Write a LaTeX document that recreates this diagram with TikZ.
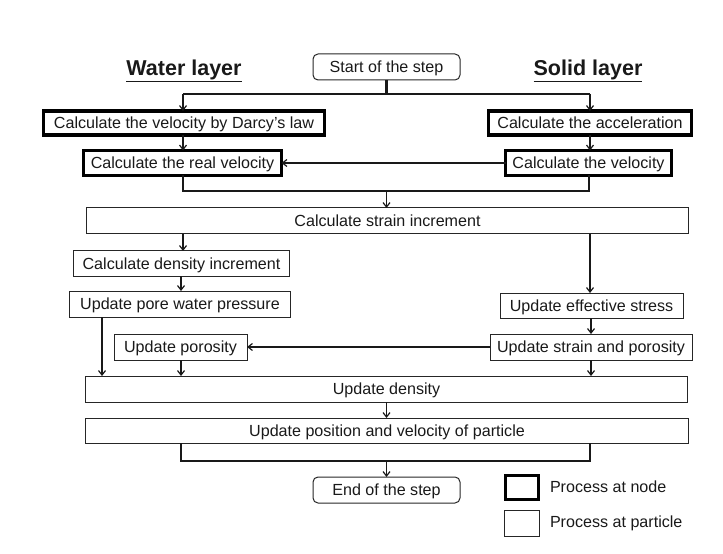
\documentclass[tikz,border=0pt]{standalone}
\usepackage{fontspec}
\setmainfont{Liberation Sans}
\usetikzlibrary{arrows.meta}
\begin{document}
\begin{tikzpicture}[x=1bp,y=-1bp,
  every node/.style={font=\fontsize{16.1bp}{19bp}\selectfont, text=black!90, inner sep=0pt, outer sep=0pt, text height=11.5bp, text depth=0bp},
  nodebox/.style={draw=black, line width=3.6bp, minimum height=24bp},
  partbox/.style={draw=black!85, line width=1bp, minimum height=26bp},
  termbox/.style={draw=black!85, line width=1bp, rounded corners=5bp, minimum height=26bp},
  title/.style={font=\fontsize{21.5bp}{25bp}\selectfont\bfseries, text height=15.5bp},
  arr/.style={draw=black!90, line width=1.2bp, -{Straight Barb[length=4.5bp,width=7bp]}},
  joinline/.style={draw=black!90, line width=2.2bp},
]
\useasboundingbox (0,0) rectangle (723,554);

% titles
\node[title] (wl) at (184,68) {\underline{Water layer}};
\node[title] (sl) at (588,68) {\underline{Solid layer}};

% nodes
\node[termbox, minimum width=147bp] (start) at (386.5,67) {Start of the step};
\node[nodebox, minimum width=281bp] (darcy) at (184,123) {Calculate the velocity by Darcy's law};
\node[nodebox, minimum width=203bp] (acc) at (590,123) {Calculate the acceleration};
\node[nodebox, minimum width=198bp, minimum height=25bp] (real) at (182.5,163) {Calculate the real velocity};
\node[nodebox, minimum width=166bp, minimum height=25bp] (vel) at (588.5,163) {Calculate the velocity};
\node[partbox, minimum width=601bp] (strain) at (387.5,221) {Calculate strain increment};
\node[partbox, minimum width=215bp, minimum height=25bp] (dinc) at (181.5,263.5) {Calculate density increment};
\node[partbox, minimum width=220bp] (pwp) at (180,304) {Update pore water pressure};
\node[partbox, minimum width=183bp, minimum height=25bp] (eff) at (591.5,305.5) {Update effective stress};
\node[partbox, minimum width=202bp] (snp) at (591,347) {Update strain and porosity};
\node[partbox, minimum width=133bp] (por) at (180.5,347) {Update porosity};
\node[partbox, minimum width=601bp] (dens) at (386.5,389) {Update density};
\node[partbox, minimum width=602bp, minimum height=25bp] (pos) at (387,430.5) {Update position and velocity of particle};
\node[termbox, minimum width=147bp] (end) at (386.5,490) {End of the step};

% legend
\node[nodebox, minimum width=33bp, minimum height=24bp] (lg1) at (522,487.5) {};
\node[partbox, minimum width=35bp, minimum height=26bp] (lg2) at (521.5,523) {};
\node[anchor=west] (lt1) at (550,487) {Process at node};
\node[anchor=west] (lt2) at (550,522) {Process at particle};

% connectors
\coordinate (j1) at (386.5,94);
\draw[joinline] (start.south) -- (j1);
\coordinate (j1l) at (183,94);
\coordinate (j1r) at (590,94);
\draw[joinline] (j1l) -- (j1r);
\draw[arr] (j1l) -- (j1l |- darcy.north);
\draw[arr] (j1r) -- (j1r |- acc.north);
\coordinate (d1) at (183,135);
\draw[arr] (d1) -- (d1 |- real.north);
\coordinate (a1) at (590,135);
\draw[arr] (a1) -- (a1 |- vel.north);
\draw[arr] (vel.west) -- (real.east);

\coordinate (j2l) at (183,191);
\coordinate (j2r) at (589,191);
\coordinate (j2) at (386.5,191);
\draw[joinline] (j2l |- real.south) -- (j2l) -- (j2r) -- (j2r |- vel.south);
\draw[arr] (j2) -- (j2 |- strain.north);

\coordinate (s1) at (183,234);
\draw[arr] (s1) -- (s1 |- dinc.north);
\coordinate (s2) at (590,234);
\draw[arr] (s2) -- (s2 |- eff.north);
\coordinate (di1) at (181,276);
\draw[arr] (di1) -- (di1 |- pwp.north);
\coordinate (e1) at (591,318);
\draw[arr] (e1) -- (e1 |- snp.north);
\draw[arr] (snp.west) -- (por.east);

\coordinate (p1) at (102,317);
\draw[arr] (p1) -- (p1 |- dens.north);
\coordinate (po1) at (181,360);
\draw[arr] (po1) -- (po1 |- dens.north);
\coordinate (sn1) at (591,360);
\draw[arr] (sn1) -- (sn1 |- dens.north);
\coordinate (de1) at (386.5,402);
\draw[arr] (de1) -- (de1 |- pos.north);

\coordinate (j3l) at (181,461);
\coordinate (j3r) at (590,461);
\coordinate (j3) at (386.5,461);
\draw[joinline] (j3l |- pos.south) -- (j3l) -- (j3r) -- (j3r |- pos.south);
\draw[arr] (j3) -- (end.north);
\end{tikzpicture}
\end{document}
